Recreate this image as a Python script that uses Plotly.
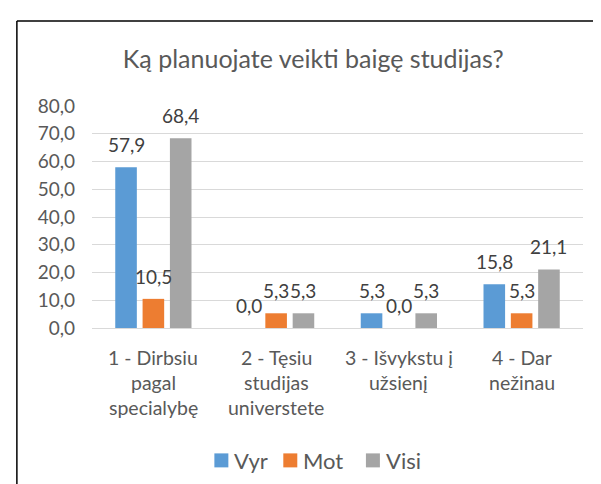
import plotly.graph_objects as go

# ---------------- data ----------------
categories = [
    "1 - Dirbsiu pagal specialybę",
    "2 - Tęsiu studijas universtete",
    "3 - Išvykstu į užsienį",
    "4 - Dar nežinau",
]
category_lines = [
    ["1 - Dirbsiu", "pagal", "specialybę"],
    ["2 - Tęsiu", "studijas", "universtete"],
    ["3 - Išvykstu į", "užsienį"],
    ["4 - Dar", "nežinau"],
]
series_names = ["Vyr", "Mot", "Visi"]
vyr = [57.9, 0.0, 5.3, 15.8]
mot = [10.5, 5.3, 0.0, 5.3]
visi = [68.4, 5.3, 5.3, 21.1]
y_ticks = [0, 10, 20, 30, 40, 50, 60, 70, 80]
title_text = "Ką planuojate veikti baigę studijas?"

# ---------------- layout constants ----------------
W, H = 601, 484
ML, MR, MT, MB = 83.5, 26, 98.3, 163.5
PW, PH = W - ML - MR, H - MT - MB
FONT = "Lato, Calibri, sans-serif"
TXT = "#595959"
colors = ["#5B9BD5", "#ED7D31", "#A5A5A5"]


def px2x(px):
    return (px - ML) / PW


def py2y(py):
    return (H - MB - py) / PH


series = [vyr, mot, visi]
fig = go.Figure()
for name, vals, col in zip(series_names, series, colors):
    fig.add_trace(go.Bar(x=categories, y=vals, name=name, marker_color=col,
                         marker_line_width=0, showlegend=False))

annotations = []
# data labels
slot = 27.3
for i, vals in enumerate(series):
    for c, v in zip(categories, vals):
        annotations.append(dict(
            x=c, y=v, xref="x", yref="y", text=f"{v:.1f}".replace(".", ","),
            showarrow=False, xshift=(i - 1) * slot, yshift=22.5,
            xanchor="center", yanchor="middle",
            font=dict(family=FONT, size=19, color="#404040")))

# category labels (multi-line)
line_y = [350, 375.5, 400.5]
for c, lines in zip(categories, category_lines):
    for k, ln in enumerate(lines):
        annotations.append(dict(
            x=c, y=py2y(line_y[k]), xref="x", yref="paper", text=ln,
            showarrow=False, xanchor="center", yanchor="middle",
            font=dict(family=FONT, size=19.5, color=TXT)))

# custom legend
shapes = []
leg_x = [206, 275, 357.7]
sq = 14
leg_cy = 453
for name, col, lx in zip(series_names, colors, leg_x):
    shapes.append(dict(type="rect", xref="paper", yref="paper",
                       x0=px2x(lx), x1=px2x(lx + sq),
                       y0=py2y(leg_cy + sq / 2), y1=py2y(leg_cy - sq / 2),
                       fillcolor=col, line_width=0))
    annotations.append(dict(
        x=px2x(lx + sq + 4), y=py2y(leg_cy), xref="paper", yref="paper",
        text=name, showarrow=False, xanchor="left", yanchor="middle",
        font=dict(family=FONT, size=22, color=TXT)))

# outer chart border (top and left visible)
shapes.append(dict(type="line", xref="paper", yref="paper",
                   x0=px2x(8.3), x1=px2x(W + 5), y0=py2y(13.3), y1=py2y(13.3),
                   line=dict(color="#000000", width=1.5)))
shapes.append(dict(type="line", xref="paper", yref="paper",
                   x0=px2x(8.3), x1=px2x(8.3), y0=py2y(13.3), y1=py2y(H + 5),
                   line=dict(color="#000000", width=1.5)))

fig.update_layout(
    width=W, height=H,
    margin=dict(l=ML, r=MR, t=MT, b=MB, pad=0),
    paper_bgcolor="white", plot_bgcolor="white",
    separators=", ",
    barmode="group", bargap=0.332, bargroupgap=0.21,
    title=dict(text=title_text, xref="paper", x=px2x(305), xanchor="center",
               yref="container", y=1 - 51.7 / H, yanchor="middle",
               font=dict(family=FONT, size=25, color=TXT)),
    xaxis=dict(showticklabels=False, showgrid=False, zeroline=False,
               showline=False, ticks=""),
    yaxis=dict(range=[0, 80], tickvals=y_ticks, tickformat=".1f",
               showgrid=True, gridcolor="#D9D9D9", gridwidth=1.3,
               zeroline=True, zerolinecolor="#D9D9D9", zerolinewidth=1.3,
               showline=False, ticks="", ticklabelstandoff=16,
               tickfont=dict(family=FONT, size=19, color=TXT)),
    annotations=annotations,
    shapes=shapes,
    showlegend=False,
)

fig.write_html("out.html")
